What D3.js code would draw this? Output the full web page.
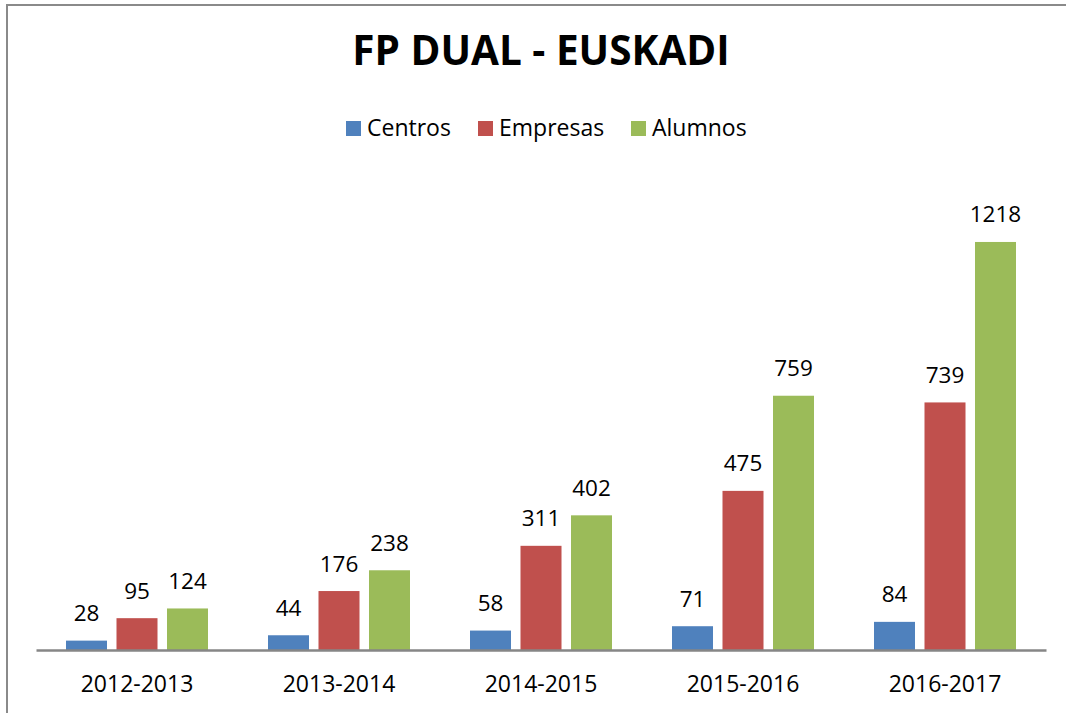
<!DOCTYPE html>
<html>
<head>
<meta charset="utf-8">
<script src="https://cdn.jsdelivr.net/npm/d3@7"></script>
<style>
  html, body { margin: 0; padding: 0; background: #fff; }
  svg { display: block; }
  text { font-family: "Open Sans", "Noto Sans", sans-serif; fill: #000; }
</style>
</head>
<body>
<svg id="chart" width="1066" height="713"></svg>
<script>
const categories = ["2012-2013", "2013-2014", "2014-2015", "2015-2016", "2016-2017"];
const seriesNames = ["Centros", "Empresas", "Alumnos"];
const centros = [28, 44, 58, 71, 84];
const empresas = [95, 176, 311, 475, 739];
const alumnos = [124, 238, 402, 759, 1218];
const seriesColors = ["#4F81BD", "#C0504D", "#9BBB59"];
const chartTitle = "FP DUAL - EUSKADI";

const seriesValues = [centros, empresas, alumnos];
const svg = d3.select("#chart");

// chart border (left/top visible; right/bottom clipped by frame)
svg.append("rect")
  .attr("x", 7).attr("y", 5).attr("width", 1062).attr("height", 720)
  .attr("fill", "none").attr("stroke", "#8a8a8a").attr("stroke-width", 2);

const x0 = d3.scaleBand().domain(categories).range([36, 1046]).paddingInner(0).paddingOuter(0);
const x1 = d3.scaleBand().domain(seriesNames).range([30, 172]).paddingInner(0.188).paddingOuter(0);
const y = d3.scaleLinear().domain([0, 1400]).range([650, 181]);

// title
svg.append("text")
  .attr("x", 541).attr("y", 65)
  .attr("text-anchor", "middle")
  .style("font-size", "40.5px").style("font-weight", "bold")
  .text(chartTitle);

// bars
const groups = svg.append("g").selectAll("g")
  .data(categories).join("g")
  .attr("transform", d => `translate(${x0(d)},0)`);

groups.selectAll("rect")
  .data((c, i) => seriesNames.map((s, j) => ({ s, j, v: seriesValues[j][i] })))
  .join("rect")
  .attr("x", d => x1(d.s))
  .attr("width", x1.bandwidth())
  .attr("y", d => y(d.v))
  .attr("height", d => y(0) - y(d.v))
  .attr("fill", d => seriesColors[d.j]);

groups.selectAll("text.val")
  .data((c, i) => seriesNames.map((s, j) => ({ s, j, v: seriesValues[j][i] })))
  .join("text")
  .attr("class", "val")
  .attr("x", d => x1(d.s) + x1.bandwidth() / 2)
  .attr("y", d => y(d.v) - 19.5)
  .attr("text-anchor", "middle")
  .style("font-size", "22.5px")
  .text(d => d.v);

// x axis
const xAxis = svg.append("g")
  .attr("transform", `translate(0,${y(0)})`)
  .call(d3.axisBottom(x0).tickSize(0).tickPadding(0));
xAxis.select(".domain").attr("stroke", "#868686").attr("stroke-width", 2.5);
xAxis.selectAll(".tick text")
  .attr("y", 42).attr("dy", null)
  .style("font-size", "23px")
  .style("font-family", "'Open Sans', sans-serif")
  .attr("fill", "#000");

// legend
const legendX = [346, 478, 631];
const legend = svg.append("g");
seriesNames.forEach((s, j) => {
  legend.append("rect")
    .attr("x", legendX[j]).attr("y", 121).attr("width", 15).attr("height", 15)
    .attr("fill", seriesColors[j]);
  legend.append("text")
    .attr("x", legendX[j] + 21).attr("y", 136)
    .style("font-size", "23px")
    .text(s);
});
</script>
</body>
</html>
